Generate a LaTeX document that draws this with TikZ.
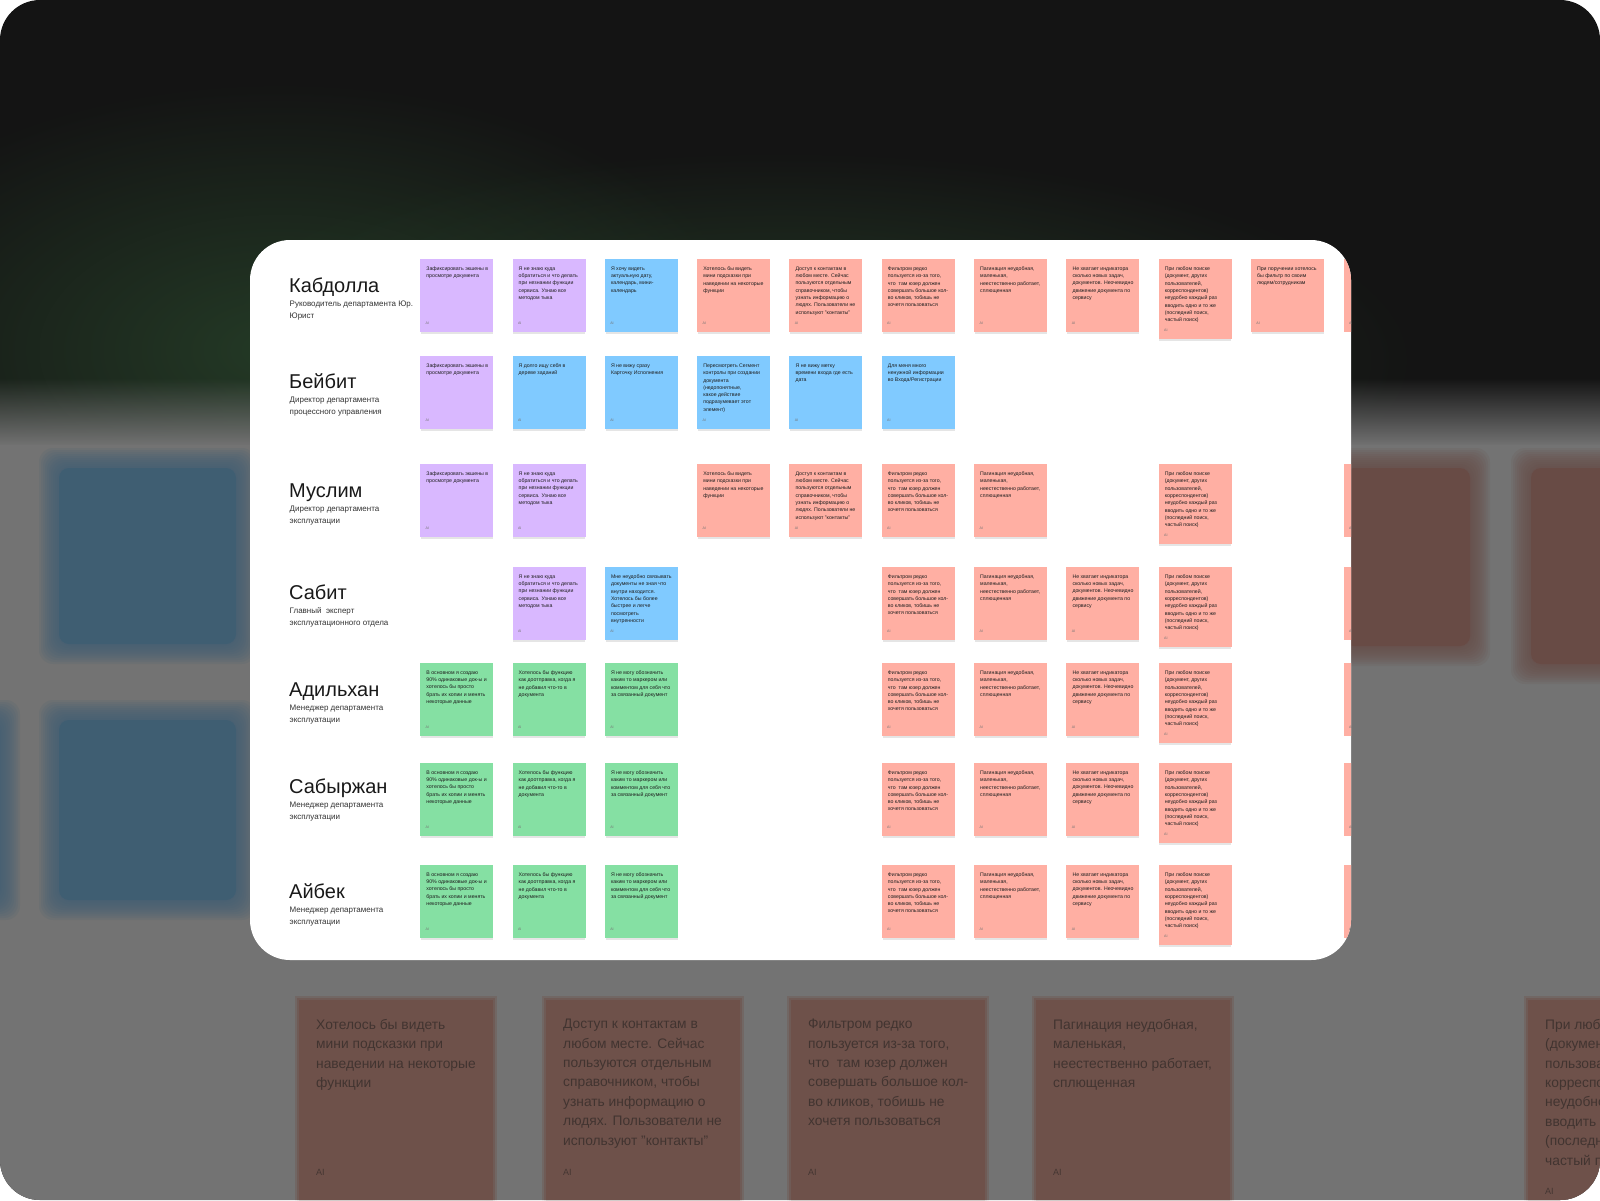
\documentclass[tikz,border=0pt]{standalone}
\usepackage{fontspec}
\setmainfont{Liberation Sans}
\usetikzlibrary{fadings}
\definecolor{bgdark}{HTML}{141414}
\definecolor{bggray}{HTML}{737373}
\definecolor{glowg}{HTML}{243A26}
\definecolor{vio}{HTML}{D9B8FF}
\definecolor{blu}{HTML}{80CAFF}
\definecolor{sal}{HTML}{FFAFA3}
\definecolor{grn}{HTML}{85E0A3}
\definecolor{txtdark}{HTML}{1E1E1E}
\definecolor{subtxt}{HTML}{333333}
\definecolor{blurblue}{HTML}{3F5E72}
\definecolor{blurred}{HTML}{684B45}
\definecolor{bigbox}{HTML}{6E514A}
\definecolor{bigtxt}{HTML}{3A2F2C}
\tikzfading[name=glowfade, inner color=transparent!0, outer color=transparent!100]
\tikzfading[name=fadedown, top color=transparent!100, bottom color=transparent!0]
\newcommand\tZaf{Зафиксировать экшены в\\просмотре документа}
\newcommand\tNeZnayu{Я не знаю куда\\обратиться и что делать\\при незнании функции\\сервиса. Узнаю все\\методом тыка}
\newcommand\tHochu{Я хочу видеть\\актуальную дату,\\календарь, мини-\\календарь}
\newcommand\tHotelos{Хотелось бы видеть\\мини подсказки при\\наведении на некоторые\\функции}
\newcommand\tDostup{Доступ к контактам в\\любом месте. Сейчас\\пользуются отдельным\\справочником, чтобы\\узнать информацию о\\людях. Пользователи не\\используют "контакты"}
\newcommand\tFiltr{Фильтром редко\\пользуется из-за того,\\что\ \ там юзер должен\\совершать большое кол-\\во кликов, тобишь не\\хочетя пользоваться}
\newcommand\tPagin{Пагинация неудобная,\\маленькая,\\неестественно работает,\\сплющенная}
\newcommand\tNeHvat{Не хватает индикатора\\сколько новых задач,\\документов. Неочевидно\\движение документа по\\сервису}
\newcommand\tPriLyub{При любом поиске\\(документ, других\\пользователей,\\корреспондентов)\\неудобно каждый раз\\вводить одно и то же\\(последний поиск,\\частый поиск)}
\newcommand\tPriPoruch{При поручении хотелось\\бы фильтр по своим\\людям/сотрудникам}
\newcommand\tDolgo{Я долго ищу себя в\\дереве заданий}
\newcommand\tNeVizhu{Я не вижу сразу\\Карточку Исполнения}
\newcommand\tPeresm{Пересмотреть Сегмент\\контролы при создании\\документа\\(недопонятные,\\какое действие\\подразумевает этот\\элемент)}
\newcommand\tMetku{Я не вижу метку\\времени входа где есть\\дата}
\newcommand\tDlya{Для меня много\\ненужной информации\\во Входа/Регистрации}
\newcommand\tMne{Мне неудобно связывать\\документы не зная что\\внутри находится.\\Хотелось бы более\\быстрее и легче\\посмотреть\\внутренности}
\newcommand\tVOsn{В основном я создаю\\90\% одинаковые док-ы и\\хотелось бы просто\\брать их копии и менять\\некоторые данные}
\newcommand\tHotFunk{Хотелось бы функцию\\как доотправка, когда я\\не добавил что-то в\\документа}
\newcommand\tNeMogu{Я не могу обозначить\\каким то маркером или\\комментом для себя что\\за связанный документ}
% sticky: name, col, top y, colour, height, text
\newcommand\stk[6]{%
  \fill[black, opacity=.10] (421+92.3*#2, #3+#5) rectangle ++(72,1.6);
  \node[stickybox, fill=#4, minimum height=#5pt] (#1) at (420+92.3*#2, #3) {};
  \node[stickytxt] at ([xshift=6.2pt, yshift=-7.6pt]#1.north west) {#6};
  \node[stickyai] at ([xshift=5.5pt, yshift=8.7pt]#1.south west) {AI};
}
\newcommand\sliver[2]{%
  \node[stickybox, fill=sal, minimum height=73pt] (#1) at (1343.5, #2) {};
  \node[stickyai] at ([xshift=5.5pt, yshift=8.7pt]#1.south west) {AI};
}
\newcommand\person[6]{% id, baseline, name, sub1, sub2
  \node[pname] (#1) at (289, #2) {#3};
  \node[psub] (#1a) at (289.5, #2+14.5) {#4};
  \node[psub] (#1b) at (289.5, #2+26) {#5};
}
\newcommand\blurbox[5]{%
  \foreach \k in {0,...,9} {
    \fill[#5, opacity=.12, rounded corners=14pt] (#1-16+2*\k,#2-16+2*\k) rectangle (#3+16-2*\k,#4+16-2*\k);
  }
  \fill[#5, rounded corners=10pt] (#1+4,#2+4) rectangle (#3-4,#4-4);
}
\newcommand\bigstk[4]{% name, x, text, ai y
  \fill[bigbox, opacity=.35] (#2-4,996) rectangle (#2+198,1203);
  \fill[bigbox, opacity=.5] (#2-2,998) rectangle (#2+196,1203);
  \node[bigbox] (#1) at (#2,1000) {};
  \node[bigtext] at ([xshift=17pt, yshift=-19pt]#1.north west) {#3};
  \node[bigai] at (#2+17, #4) {AI};
}
\begin{document}
\begin{tikzpicture}[x=1pt, y=-1pt,
  stickybox/.style={anchor=north west, inner sep=0pt, minimum width=73pt, draw=none},
  stickytxt/.style={anchor=north west, inner sep=0pt, align=left, text=txtdark,
    font=\fontsize{5.2}{7.3}\selectfont},
  stickyai/.style={anchor=west, inner sep=0pt, text=black!55, font=\fontsize{3.6}{4}\selectfont},
  pname/.style={anchor=base west, inner sep=0pt, text=black!90, font=\fontsize{20}{24}\selectfont},
  psub/.style={anchor=base west, inner sep=0pt, text=subtxt, font=\fontsize{8}{10}\selectfont},
  bigbox/.style={anchor=north west, inner sep=0pt, minimum width=194pt, minimum height=205pt, fill=bigbox},
  bigtext/.style={anchor=north west, inner sep=0pt, align=left, text=bigtxt, opacity=.85,
    font=\fontsize{13.8}{19.4}\selectfont},
  bigai/.style={anchor=west, inner sep=0pt, text=bigtxt, opacity=.8, font=\fontsize{9}{10}\selectfont}]
\useasboundingbox (0,0) rectangle (1600,1200);
\fill[white] (0,0) rectangle (1600,1200);
\begin{scope}
  \clip[rounded corners=40pt] (0,0) rectangle (1600,1200);
  \fill[bgdark] (0,0) rectangle (1600,1200);
  \fill[glowg, path fading=glowfade] (280,350) ellipse [x radius=480pt, y radius=270pt];
  \fill[glowg, path fading=glowfade] (780,360) ellipse [x radius=640pt, y radius=210pt];
  \fill[bggray, path fading=fadedown] (-20,378) rectangle (1620,446);
  \fill[bggray] (-20,445) rectangle (1620,1220);
  % blurred background stickies
  \blurbox{55}{464}{240}{648}{blurblue}
  \blurbox{55}{716}{240}{904}{blurblue}
  \blurbox{-200}{716}{4}{904}{blurblue}
  \blurbox{1340}{464}{1474}{650}{blurred}
  \blurbox{1527}{464}{1700}{668}{blurred}
  % big blurred stickies at the bottom
  \bigstk{b1}{299}{\tHotelos}{1172}
  \bigstk{b2}{546}{\tDostup}{1172}
  \bigstk{b3}{791}{\tFiltr}{1172}
  \bigstk{b4}{1036}{\tPagin}{1172}
  \bigstk{b5}{1528}{\tPriLyub}{1191}
\end{scope}
% white card
\fill[white, rounded corners=40pt] (250,240) rectangle (1351,960);
\begin{scope}
  \clip[rounded corners=40pt] (250,240) rectangle (1351,960);
  % people
  \person{p1}{292}{Кабдолла}{Руководитель департамента Юр.}{Юрист}{}
  \person{p2}{388}{Бейбит}{Директор департамента}{процессного управления}{}
  \person{p3}{497}{Муслим}{Директор департамента}{эксплуатации}{}
  \person{p4}{599}{Сабит}{Главный\ \ эксперт}{эксплуатационного отдела}{}
  \person{p5}{696}{Адильхан}{Менеджер департамента}{эксплуатации}{}
  \person{p6}{793}{Сабыржан}{Менеджер департамента}{эксплуатации}{}
  \person{p7}{898}{Айбек}{Менеджер департамента}{эксплуатации}{}
  % row 1
  \stk{r1c0}{0}{259}{vio}{73}{\tZaf}
  \stk{r1c1}{1}{259}{vio}{73}{\tNeZnayu}
  \stk{r1c2}{2}{259}{blu}{73}{\tHochu}
  \stk{r1c3}{3}{259}{sal}{73}{\tHotelos}
  \stk{r1c4}{4}{259}{sal}{73}{\tDostup}
  \stk{r1c5}{5}{259}{sal}{73}{\tFiltr}
  \stk{r1c6}{6}{259}{sal}{73}{\tPagin}
  \stk{r1c7}{7}{259}{sal}{73}{\tNeHvat}
  \stk{r1c8}{8}{259}{sal}{80}{\tPriLyub}
  \stk{r1c9}{9}{259}{sal}{73}{\tPriPoruch}
  \sliver{r1c10}{259}
  % row 2
  \stk{r2c0}{0}{356}{vio}{73}{\tZaf}
  \stk{r2c1}{1}{356}{blu}{73}{\tDolgo}
  \stk{r2c2}{2}{356}{blu}{73}{\tNeVizhu}
  \stk{r2c3}{3}{356}{blu}{73}{\tPeresm}
  \stk{r2c4}{4}{356}{blu}{73}{\tMetku}
  \stk{r2c5}{5}{356}{blu}{73}{\tDlya}
  % row 3
  \stk{r3c0}{0}{464}{vio}{73}{\tZaf}
  \stk{r3c1}{1}{464}{vio}{73}{\tNeZnayu}
  \stk{r3c3}{3}{464}{sal}{73}{\tHotelos}
  \stk{r3c4}{4}{464}{sal}{73}{\tDostup}
  \stk{r3c5}{5}{464}{sal}{73}{\tFiltr}
  \stk{r3c6}{6}{464}{sal}{73}{\tPagin}
  \stk{r3c8}{8}{464}{sal}{80}{\tPriLyub}
  \sliver{r3c10}{464}
  % row 4
  \stk{r4c1}{1}{567}{vio}{73}{\tNeZnayu}
  \stk{r4c2}{2}{567}{blu}{73}{\tMne}
  \stk{r4c5}{5}{567}{sal}{73}{\tFiltr}
  \stk{r4c6}{6}{567}{sal}{73}{\tPagin}
  \stk{r4c7}{7}{567}{sal}{73}{\tNeHvat}
  \stk{r4c8}{8}{567}{sal}{80}{\tPriLyub}
  \sliver{r4c10}{567}
  % rows 5-7
  \foreach \r/\y in {5/663, 6/763, 7/865} {
    \stk{r\r c0}{0}{\y}{grn}{73}{\tVOsn}
    \stk{r\r c1}{1}{\y}{grn}{73}{\tHotFunk}
    \stk{r\r c2}{2}{\y}{grn}{73}{\tNeMogu}
    \stk{r\r c5}{5}{\y}{sal}{73}{\tFiltr}
    \stk{r\r c6}{6}{\y}{sal}{73}{\tPagin}
    \stk{r\r c7}{7}{\y}{sal}{73}{\tNeHvat}
    \stk{r\r c8}{8}{\y}{sal}{80}{\tPriLyub}
    \sliver{r\r c10}{\y}
  }
\end{scope}
\end{tikzpicture}
\end{document}
